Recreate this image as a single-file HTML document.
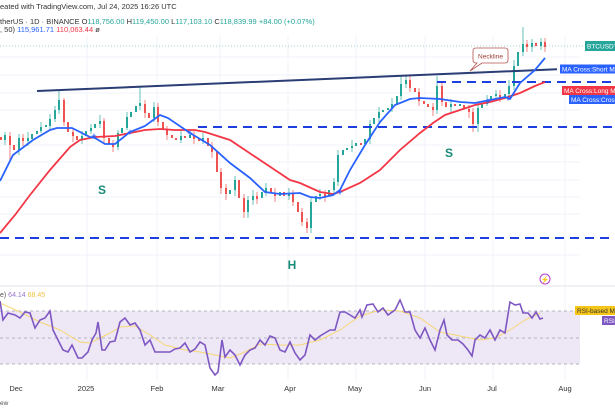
<!DOCTYPE html>
<html><head><meta charset="utf-8"><style>
html,body{margin:0;padding:0;background:#fff;width:615px;height:410px;overflow:hidden;font-family:"Liberation Sans",sans-serif}
svg{position:absolute;left:0;top:0}
</style></head><body>
<svg width="615" height="410" xmlns="http://www.w3.org/2000/svg" font-family="Liberation Sans, sans-serif">
<g stroke="#f0f3fa" stroke-width="1">
<line x1="87" y1="35" x2="87" y2="380"/><line x1="157" y1="35" x2="157" y2="380"/><line x1="220" y1="35" x2="220" y2="380"/><line x1="288" y1="35" x2="288" y2="380"/><line x1="356" y1="35" x2="356" y2="380"/><line x1="425" y1="35" x2="425" y2="380"/><line x1="493" y1="35" x2="493" y2="380"/><line x1="565" y1="35" x2="565" y2="380"/>
<line x1="0" y1="57" x2="580" y2="57"/><line x1="0" y1="75" x2="580" y2="75"/><line x1="0" y1="93" x2="580" y2="93"/><line x1="0" y1="110" x2="580" y2="110"/><line x1="0" y1="145" x2="580" y2="145"/><line x1="0" y1="162" x2="580" y2="162"/><line x1="0" y1="180" x2="580" y2="180"/><line x1="0" y1="197" x2="580" y2="197"/><line x1="0" y1="214" x2="580" y2="214"/><line x1="0" y1="255" x2="580" y2="255"/>
</g>
<line x1="0" y1="46" x2="585" y2="46" stroke="#26a69a" stroke-width="0.7" stroke-dasharray="1,2" opacity="0.6"/>
<line x1="0" y1="286" x2="615" y2="286" stroke="#e0e3eb" stroke-width="1"/>
<rect x="0" y="311" width="580" height="53" fill="#ede7f6"/>
<g stroke="#b2b5be" stroke-width="1" stroke-dasharray="3,3">
<line x1="0" y1="311" x2="580" y2="311"/><line x1="0" y1="338" x2="580" y2="338"/><line x1="0" y1="364" x2="580" y2="364"/></g>
<!-- candles -->
<path fill="none" stroke="#26a69a" stroke-width="2" d="M5,140V135M19,150V138M28,141V138M32,139V134M37,134V131M41,131V127M46,127V125M50,126V119M55,119V110M59,110V100M82,140V136M86,136V131M91,131V128M95,128V124M100,124V121M118,147V133M122,133V128M127,128V117M131,117V112M136,112V106M140,106V103M154,118V107M181,140V136M190,138V135M203,141V138M230,194V190M235,190V180M248,212V200M253,200V196M262,198V192M266,192V188M280,196V192M289,196V193M311,228V202M316,202V196M320,196V194M329,196V190M334,190V182M338,182V155M343,155V150M347,150V148M352,148V146M356,146V143M365,144V139M370,139V124M374,124V118M379,118V112M383,112V110M388,110V108M392,109V104M397,104V96M401,96V84M406,84V80M437,110V86M451,107V104M460,106V104M478,124V108M482,108V104M487,104V100M491,100V96M496,96V94M505,98V94M509,94V86M514,86V66M518,66V52M523,52V44M532,47V43M541,46V42"/>
<path fill="none" stroke="#ef5350" stroke-width="2" d="M1,137V140M10,136V145M14,145V150M23,138V141M64,100V122M68,122V132M73,132V136M77,136V140M104,121V138M109,138V144M113,144V147M145,104V113M149,113V118M158,107V122M163,122V130M167,130V135M172,135V138M176,138V140M185,136V138M194,135V139M199,139V141M208,138V146M212,146V152M217,152V172M221,172V188M226,188V194M239,180V198M244,198V212M257,196V199M271,188V193M275,193V196M284,192V196M293,194V202M298,202V212M302,212V222M307,222V228M325,194V197M361,143V145M410,80V88M415,88V92M419,92V101M424,101V104M428,104V107M433,107V110M442,86V102M446,102V107M455,104V106M464,105V109M469,109V112M473,112V124M500,95V98M527,44V47M536,43V46M545,42V47"/>
<path fill="none" stroke="#26a69a" stroke-width="0.7" d="M5,132V145M19,134V155M28,132V146M41,122V133M50,114V130M55,106V122M59,90V114M82,131V144M91,124V134M100,115V128M118,130V150M127,112V130M140,86V110M154,102V122M181,131V143M203,133V144M235,176V196M248,196V218M253,190V205M266,183V196M289,188V200M311,198V233M320,189V200M334,178V194M338,150V186M352,140V152M370,120V144M379,107V122M392,98V112M401,76V100M406,76V88M437,76V114M451,99V112M478,103V132M487,95V106M496,90V100M509,80V98M514,60V90M523,27V56M532,39V52M541,38V50"/>
<path fill="none" stroke="#ef5350" stroke-width="0.7" d="M10,132V160M23,134V146M64,98V126M73,128V142M104,118V144M113,140V152M145,100V118M158,103V126M167,126V140M194,131V144M212,142V158M221,168V194M226,184V200M244,194V218M257,192V204M275,188V202M293,190V206M302,208V226M307,218V233M325,190V202M410,76V92M419,88V106M433,103V116M442,82V106M469,105V118M473,108V132M500,90V102M527,40V52M545,38V52"/>
<g stroke="#1e3fe0" stroke-width="2" stroke-dasharray="9,6">
<line x1="198" y1="127" x2="615" y2="127"/><line x1="0" y1="238" x2="615" y2="238"/><line x1="437" y1="82" x2="615" y2="82"/></g>
<line x1="37" y1="91" x2="557" y2="69.3" stroke="#2a3d75" stroke-width="2"/>
<polyline fill="none" stroke="#f23645" stroke-width="1.8" points="0,233 15,215 30,195 50,170 70,147 80,140 95,137 115,136 130,133 145,130 160,129 175,130 195,130 205,132 230,140 260,160 290,180 300,183 320,192 333,194 340,192 360,183 380,170 400,150 420,133 433,123 445,115 460,110 475,105 490,102 505,98 520,93 535,86 545,82"/>
<polyline fill="none" stroke="#2962ff" stroke-width="1.8" points="0,181 13,155 33,140 50,130 57,128 72,128 90,137 95,138 105,144 115,144 130,132 145,126 160,115 168,118 190,133 210,145 230,163 250,178 265,192 280,194 300,193 310,197 320,198 333,195 340,190 350,170 365,145 380,122 395,105 410,99 420,98 440,99 460,102 475,103 490,100 505,97 510,99 520,83 535,70 545,58"/>
<g fill="#2962ff" font-size="9" font-weight="bold"><text x="94" y="139" text-anchor="middle">+</text><text x="130" y="135" text-anchor="middle">+</text><text x="190" y="136" text-anchor="middle">+</text><text x="340" y="195" text-anchor="middle">+</text><text x="488" y="104" text-anchor="middle">+</text><text x="508" y="101" text-anchor="middle">+</text></g>
<g fill="#1a8a7a" font-weight="bold" font-size="12"><text x="102" y="194" text-anchor="middle">S</text><text x="449" y="157" text-anchor="middle">S</text><text x="292" y="269" text-anchor="middle">H</text></g>
<path d="M476,48 H505 Q508,48 508,51 V60 Q508,63 505,63 H482 L470,71 L477,63 H476 Q473,63 473,60 V51 Q473,48 476,48Z" fill="#fff" stroke="#b5544f" stroke-width="0.8"/>
<text x="490.5" y="58.5" font-size="6.5" fill="#9b3b35" text-anchor="middle">Neckline</text>
<rect x="585" y="41" width="30" height="10" fill="#26a69a"/><text x="587" y="48.5" font-size="6.5" fill="#fff">BTCUSDT</text>
<rect x="560" y="64.5" width="55" height="9" fill="#2962ff"/><text x="562" y="71.5" font-size="6.5" fill="#fff">MA Cross:Short MA</text>
<rect x="562" y="86" width="53" height="9" fill="#f23645"/><text x="564" y="93" font-size="6.5" fill="#fff">MA Cross:Long MA</text>
<rect x="569" y="95" width="46" height="9" fill="#2962ff"/><text x="571" y="102" font-size="6.5" fill="#fff">MA Cross:Cross</text>
<polyline fill="none" stroke="#f7d774" stroke-width="1" points="0,303 20,312 40,322 60,330 80,342 90,343 100,338 110,333 120,327 135,326 150,335 165,345 185,350 200,352 215,355 230,358 245,352 260,344 280,345 300,345 320,340 340,330 360,316 380,310 400,311 420,318 440,332 460,336 480,340 495,338 510,330 525,320 540,313"/>
<polyline fill="none" stroke="#7e57c2" stroke-width="1.6" points="0,301 3,320 8,313 15,315 20,318 25,312 30,313 35,328 40,320 45,318 50,311 53,330 58,340 63,350 68,352 72,345 78,358 82,358 88,352 92,340 96,333 98,322 102,350 105,350 110,342 115,341 120,322 125,318 130,325 135,323 140,330 145,345 150,340 155,352 160,352 170,352 175,349 180,348 185,343 190,352 195,349 200,342 205,345 210,368 215,375 218,372 222,340 225,357 230,350 235,355 240,365 245,355 250,350 255,348 260,340 265,345 270,336 275,338 280,350 285,352 290,342 295,353 300,360 305,355 310,335 315,340 320,336 330,330 335,330 340,312 345,312 350,315 355,318 360,310 362,317 367,305 373,304 378,312 383,308 388,315 395,310 400,300 405,312 410,312 415,330 420,338 425,328 430,340 435,350 440,330 444,320 447,335 452,340 458,340 463,344 468,350 472,356 475,340 480,335 485,338 490,330 495,340 500,330 505,333 510,302 515,305 520,304 523,313 528,313 532,318 536,312 540,319 543,318"/>
<rect x="575" y="306" width="40" height="9" fill="#f5c518"/><text x="577" y="313" font-size="6.5" fill="#333">RSI-based MA</text>
<rect x="602" y="316" width="13" height="9" fill="#7e57c2"/><text x="604" y="323" font-size="6.5" fill="#fff">RSI</text>
<circle cx="545" cy="279" r="5" fill="none" stroke="#b040d0" stroke-width="1"/><text x="545" y="282" font-size="7" fill="#b040d0" text-anchor="middle">⚡</text>
<text x="0" y="297" font-size="7" fill="#555">e) <tspan fill="#9575cd">64.14</tspan> <tspan fill="#f0c040">68.45</tspan></text>
<g font-size="7.5" fill="#333" text-anchor="middle"><text x="16" y="391">Dec</text><text x="86" y="391">2025</text><text x="157" y="391">Feb</text><text x="218" y="391">Mar</text><text x="290" y="391">Apr</text><text x="355" y="391">May</text><text x="425" y="391">Jun</text><text x="492" y="391">Jul</text><text x="565" y="391">Aug</text></g>
<text x="0" y="405" font-size="6.5" fill="#555">ew</text>
<text x="0" y="9" font-size="7.5" fill="#333">eated with TradingView.com, Jul 24, 2025 16:26 UTC</text>
<text x="0" y="24" font-size="7.5" fill="#333">therUS · 1D · BINANCE  O<tspan fill="#26a69a">118,756.00</tspan>  H<tspan fill="#26a69a">119,450.00</tspan>  L<tspan fill="#26a69a">117,103.10</tspan>  C<tspan fill="#26a69a">118,839.99  +84.00 (+0.07%)</tspan></text>
<text x="0" y="32" font-size="7.5" fill="#333">, 50)  <tspan fill="#2962ff">115,961.71</tspan>  <tspan fill="#f23645">110,063.44</tspan>  ø</text>
</svg>
</body></html>
